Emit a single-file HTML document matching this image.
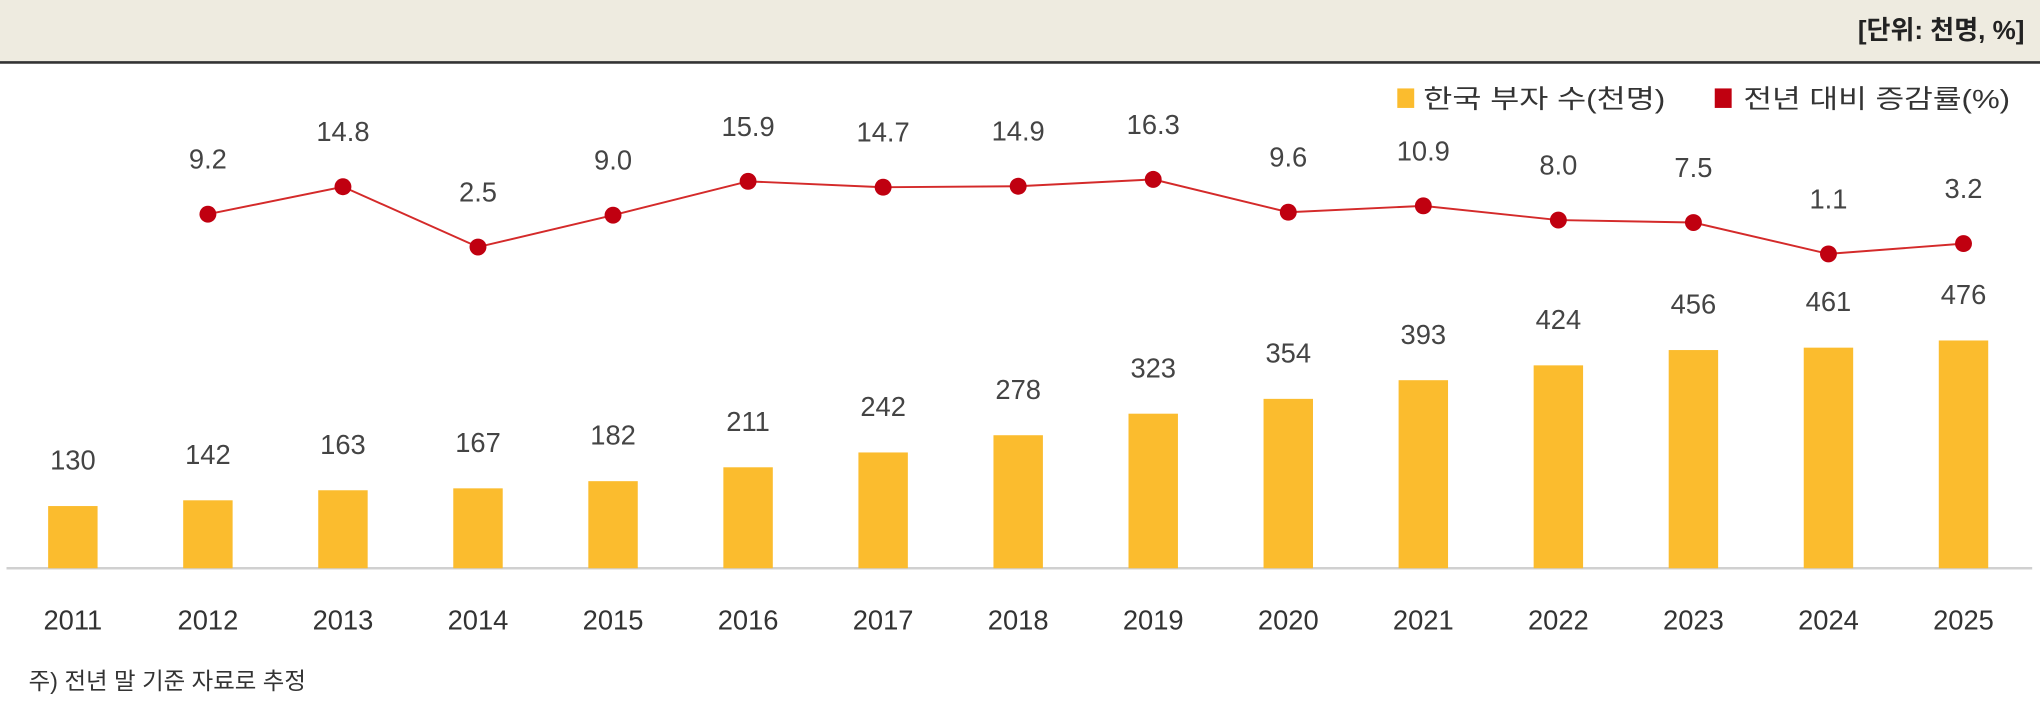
<!DOCTYPE html>
<html><head><meta charset="utf-8"><style>
html,body{margin:0;padding:0;background:#fff;}
svg{display:block;}
text{font-family:"Liberation Sans","Noto Sans CJK KR",sans-serif;}
</style></head><body>
<svg id="chart" width="2040" height="710" viewBox="0 0 1568 546" preserveAspectRatio="none" xmlns="http://www.w3.org/2000/svg">
<rect x="0" y="0" width="1568" height="47" fill="#eeebe0"/>
<line x1="0" y1="48" x2="1568" y2="48" stroke="#333" stroke-width="2"/>
<text x="1556" y="30" text-anchor="end" font-size="20" font-weight="bold" fill="#222">[단위: 천명, %]</text>
<g>
<rect x="1074" y="68" width="13" height="15" fill="#fbbc2e"/>
<text x="1094" y="83" font-size="20" textLength="186" lengthAdjust="spacingAndGlyphs" fill="#333">한국 부자 수(천명)</text>
<rect x="1318" y="68" width="13" height="15" fill="#c00010"/>
<text x="1340" y="83" font-size="20" textLength="205" lengthAdjust="spacingAndGlyphs" fill="#333">전년 대비 증감률(%)</text>
</g>
<line x1="5" y1="437" x2="1562" y2="437" stroke="#d0d0d0" stroke-width="2"/>
<g id="bars"></g><g id="line"></g><g id="xlabels"></g>
<text x="22" y="530" font-size="18" fill="#333">주) 전년 말 기준 자료로 추정</text>
</svg>
<script>
const years=["2011","2012","2013","2014","2015","2016","2017","2018","2019","2020","2021","2022","2023","2024","2025"];
const richCounts=[130,142,163,167,182,211,242,278,323,354,393,424,456,461,476];
const growthYears=["2012","2013","2014","2015","2016","2017","2018","2019","2020","2021","2022","2023","2024","2025"];
const growthRates=[9.2,14.8,2.5,9.0,15.9,14.7,14.9,16.3,9.6,10.9,8.0,7.5,1.1,3.2];
const NS="http://www.w3.org/2000/svg";
function xPos(y){return 56+years.indexOf(y)*103.8;}
function yBar(v){return 437-v*0.368;}
function yLine(v){return 199.4-v*3.77;}
function mk(tag,attrs,parent){const e=document.createElementNS(NS,tag);for(const k in attrs)e.setAttribute(k,attrs[k]);parent.appendChild(e);return e;}
const bars=document.getElementById('bars'),line=document.getElementById('line'),xl=document.getElementById('xlabels');
years.forEach((y,i)=>{
 const cx=xPos(y),top=yBar(richCounts[i]);
 const r=mk('rect',{x:cx-19,y:top,width:38,height:437-top,fill:'#fbbc2e'},bars);
 
 
 const t=mk('text',{x:cx,y:top-28,'text-anchor':'middle','font-size':'21',fill:'#444'},bars);
 t.textContent=richCounts[i];
 
 
 const xt=mk('text',{x:cx,y:484,'text-anchor':'middle','font-size':'21',fill:'#333'},xl);
 xt.textContent=y;
 
 
});
const pts=growthYears.map((y,i)=>xPos(y)+','+yLine(growthRates[i])).join(' ');
const pl=mk('polyline',{points:pts,fill:'none',stroke:'#d42a2a','stroke-width':'1.5'},line);


growthYears.forEach((y,i)=>{
 const cx=xPos(y),cy=yLine(growthRates[i]);
 const c=mk('circle',{cx:cx,cy:cy,r:6.5,fill:'#c00010'},line);
 
 
 const t=mk('text',{x:cx,y:cy-35,'text-anchor':'middle','font-size':'21',fill:'#444'},line);
 t.textContent=growthRates[i].toFixed(1);
 
 
});
</script>
</body></html>
